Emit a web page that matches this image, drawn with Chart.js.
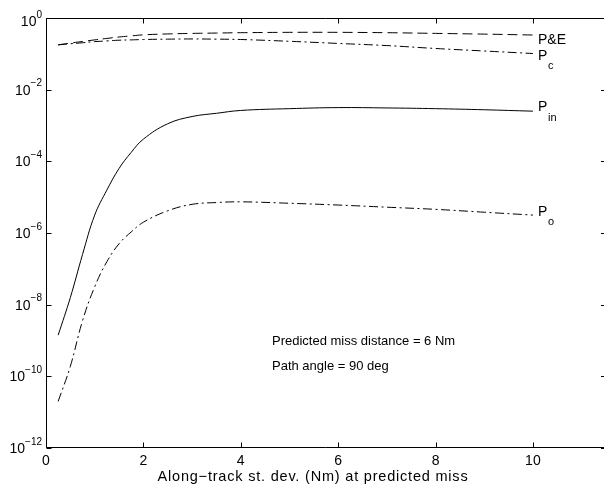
<!DOCTYPE html>
<html>
<head>
<meta charset="utf-8">
<script src="https://cdn.jsdelivr.net/npm/chart.js@4"></script>
<style>
html,body{margin:0;padding:0;background:#fff;overflow:hidden;}
#wrap{position:relative;width:604px;height:488px;}
</style>
</head>
<body>
<div id="wrap"><canvas id="c" width="604" height="488"></canvas></div>
<script>
// ---- data ----
const xValues = [0.25,0.5,0.75,1,1.25,1.5,1.75,2,2.5,3,3.5,4,5,6,7,8,9,10];
const pAndE = [0.178,0.200,0.221,0.245,0.269,0.295,0.316,0.339,0.359,0.372,0.380,0.389,0.398,0.398,0.389,0.372,0.355,0.335];
const pC    = [0.178,0.191,0.204,0.219,0.229,0.240,0.245,0.251,0.257,0.260,0.257,0.251,0.224,0.195,0.170,0.141,0.120,0.102];
const pIn   = [1.41e-9,1.58e-8,2.51e-7,3.16e-6,1.58e-5,6.31e-5,1.78e-4,4.17e-4,1.12e-3,1.78e-3,2.19e-3,2.63e-3,2.95e-3,3.16e-3,3.09e-3,2.95e-3,2.75e-3,2.51e-3];
const pO    = [2.0e-11,1.91e-10,3.55e-9,3.16e-8,1.58e-7,5.01e-7,1.07e-6,2.0e-6,4.17e-6,6.31e-6,7.08e-6,7.41e-6,6.76e-6,6.03e-6,5.25e-6,4.57e-6,3.80e-6,3.16e-6];
const xTicks = [0,2,4,6,8,10];
const yTickExponents = [0,-2,-4,-6,-8,-10,-12];
const seriesNames = [['P&E',''],['P','c'],['P','in'],['P','o']];
const xTitle = 'Along\u2212track st. dev. (Nm) at predicted miss';
const notes = ['Predicted miss distance = 6 Nm','Path angle = 90 deg'];

const pts = arr => arr.map((v,i)=>({x:xValues[i], y:v}));
const FONT = '"Liberation Sans", Arial, Helvetica, sans-serif';

const base = {borderColor:'#000', borderWidth:1, pointRadius:0, fill:false, tension:0.4};
const DASH = [10,5];
const DASHDOT = [9,3.5,2,3.5];

const axesPlugin = {
  id:'axesPlugin',
  afterDraw(chart){
    const ctx = chart.ctx, a = chart.chartArea;
    const xs = chart.scales.x, ys = chart.scales.y;
    ctx.save();
    ctx.strokeStyle = '#000'; ctx.lineWidth = 1;
    const L = Math.round(a.left)+0.5, R = a.right+2, T = Math.round(a.top)+0.5, B = Math.round(a.bottom)-0.5;
    ctx.beginPath();
    ctx.moveTo(R,T); ctx.lineTo(L,T); ctx.lineTo(L,B); ctx.lineTo(R,B);
    ctx.stroke();
    // ticks (inward)
    ctx.beginPath();
    xTicks.forEach(t=>{
      const px = Math.round(xs.getPixelForValue(t))+0.5;
      ctx.moveTo(px,B); ctx.lineTo(px,B-5);
      ctx.moveTo(px,T); ctx.lineTo(px,T+5);
    });
    yTickExponents.forEach(e=>{
      const py = Math.round(ys.getPixelForValue(Math.pow(10,e)))+0.5;
      ctx.moveTo(L,py); ctx.lineTo(L+5,py);
      ctx.moveTo(R,py); ctx.lineTo(R-5,py);
    });
    ctx.stroke();
    ctx.fillStyle = '#000';
    // x tick labels
    ctx.font = '14px '+FONT; ctx.textAlign='center'; ctx.textBaseline='middle';
    xTicks.forEach(t=>{ ctx.fillText(String(t), xs.getPixelForValue(t), 461); });
    // y tick labels 10^e
    yTickExponents.forEach(e=>{
      const py = ys.getPixelForValue(Math.pow(10,e)) + (e===0 ? 3 : 0);
      const ex = e===0 ? '0' : '\u2212'+Math.abs(e);
      ctx.font = '10px '+FONT; ctx.textAlign='right'; ctx.textBaseline='middle';
      const w = ctx.measureText(ex).width;
      ctx.fillText(ex, 42, py-6);
      ctx.font = '14px '+FONT;
      ctx.fillText('10', 42-w, py+1);
    });
    // x title
    ctx.font = '14.5px '+FONT; ctx.textAlign='center'; ctx.textBaseline='middle';
    if ('letterSpacing' in ctx) ctx.letterSpacing = '0.8px';
    ctx.fillText(xTitle, 313, 477);
    if ('letterSpacing' in ctx) ctx.letterSpacing = '0px';
    // notes
    ctx.font = '13px '+FONT; ctx.textAlign='left';
    ctx.fillText(notes[0], 272, 341);
    ctx.fillText(notes[1], 272, 366);
    // series labels
    const labY = [40,56,107.5,212];
    seriesNames.forEach((n,i)=>{
      ctx.font = '14px '+FONT; ctx.textAlign='left'; ctx.textBaseline='middle';
      ctx.fillText(n[0], 538, labY[i]);
      if(n[1]){
        ctx.font = '11px '+FONT;
        ctx.fillText(n[1], 548, labY[i]+10);
      }
    });
    ctx.restore();
  }
};

new Chart(document.getElementById('c'), {
  type:'line',
  data:{datasets:[
    Object.assign({label:'P&E', data:pts(pAndE), borderDash:DASH}, base),
    Object.assign({label:'Pc', data:pts(pC), borderDash:DASHDOT}, base),
    Object.assign({label:'Pin', data:pts(pIn)}, base),
    Object.assign({label:'Po', data:pts(pO), borderDash:DASHDOT}, base)
  ]},
  options:{
    responsive:false, animation:false,
    layout:{padding:{left:46, top:18, right:0, bottom:40}},
    plugins:{legend:{display:false}, tooltip:{enabled:false}},
    scales:{
      x:{type:'linear', min:0, max:11.46, display:false},
      y:{type:'logarithmic', min:1e-12, max:1, display:false}
    }
  },
  plugins:[axesPlugin]
});
</script>
</body>
</html>
